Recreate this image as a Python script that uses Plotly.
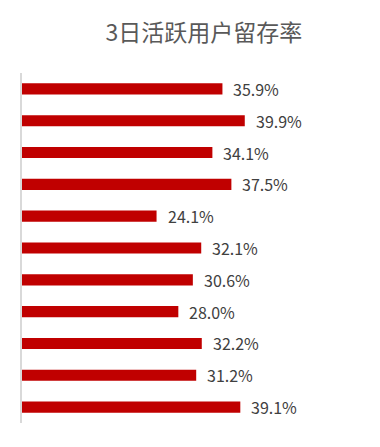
import plotly.graph_objects as go

categories = ["第1组", "第2组", "第3组", "第4组", "第5组", "第6组",
              "第7组", "第8组", "第9组", "第10组", "第11组"]
values = [35.9, 39.9, 34.1, 37.5, 24.1, 32.1, 30.6, 28.0, 32.2, 31.2, 39.1]
labels = [f"{v:.1f}%" for v in values]
title = "3日活跃用户留存率"

# the page body has an 8px default margin, so the figure is sized to fit inside the window
W, H = 372, 439

fig = go.Figure()
fig.add_trace(go.Bar(
    x=values, y=categories, orientation="h",
    marker=dict(color="#C00000", line=dict(width=0)),
    hoverinfo="skip",
))
for c, v, t in zip(categories, values, labels):
    fig.add_annotation(x=v, y=c, text=t, showarrow=False, xanchor="left",
                       xshift=9, font=dict(size=16, color="#404040",
                                           family="Noto Sans CJK SC"))

fig.update_layout(
    width=W, height=H,
    margin=dict(l=14, r=23, t=65, b=24),
    paper_bgcolor="white", plot_bgcolor="white",
    bargap=0.65,
    showlegend=False,
    title=dict(text=title, x=196 / W, xanchor="center", y=1 - 25 / H, yanchor="middle",
               font=dict(size=23, color="#595959", family="Noto Sans CJK SC")),
    xaxis=dict(range=[0, 60], visible=False, showgrid=False, zeroline=False, fixedrange=True),
    yaxis=dict(type="category", autorange="reversed", showticklabels=False, showgrid=False,
               zeroline=False, showline=True, linecolor="#d9d9d9", linewidth=1.5, ticks=""),
)

fig.write_html("out.html")
